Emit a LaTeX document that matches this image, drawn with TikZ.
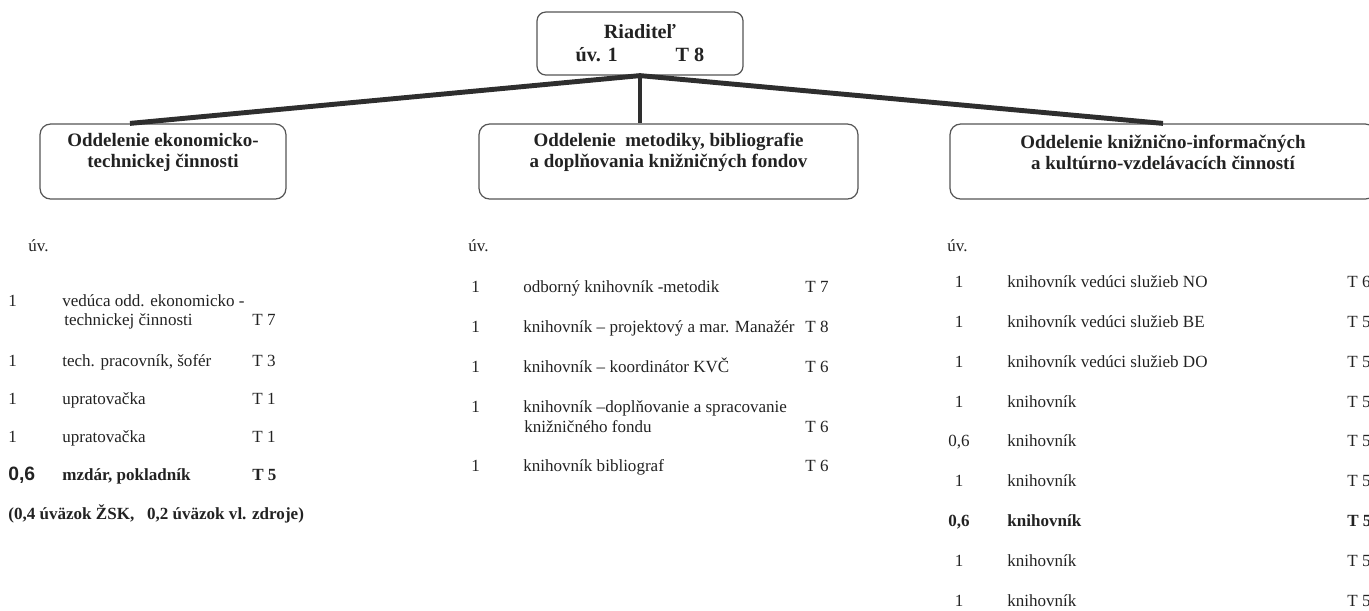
\documentclass[tikz,border=0pt]{standalone}
\usepackage{fontspec}
\setmainfont{Liberation Serif}
\newfontfamily\numfont{Liberation Sans}
\definecolor{ink}{HTML}{222222}
\definecolor{frame}{HTML}{555555}
\definecolor{wire}{HTML}{2E2E2E}
\begin{document}
\begin{tikzpicture}[x=0.02cm,y=-0.02cm,
    every node/.style={text=ink, inner sep=0pt},
    dirbox/.style={draw=frame, line width=0.7pt, rounded corners=5pt,
        minimum width=4.12cm, minimum height=1.26cm, align=center,
        font=\bfseries\fontsize{11.5}{13}\selectfont},
    deptbox/.style={draw=frame, line width=0.7pt, rounded corners=6pt, minimum height=1.5cm},
    depttitle/.style={align=center, font=\bfseries\fontsize{10.8}{12}\selectfont},
    entry/.style={anchor=base west, font=\fontsize{9.7}{11.3}\selectfont},
    entryb/.style={anchor=base west, font=\bfseries\fontsize{9.7}{11.3}\selectfont},
    branch/.style={draw=wire, line width=2.8pt}]
\useasboundingbox (0,0) rectangle (1369,610);
\clip (0,0) rectangle (1369,610);
% riaditel a oddelenia
\node[dirbox] (dir) at (640,43.5) {Riaditeľ\\úv. 1\hspace{33pt}T 8};
\node[deptbox, minimum width=4.92cm] (ekon) at (163,161.5) {};
\node[depttitle] (ekont) at (163,152) {Oddelenie ekonomicko-\\technickej činnosti};
\node[deptbox, minimum width=7.58cm] (metod) at (668.5,161.5) {};
\node[depttitle] (metodt) at (668.5,152) {Oddelenie\ \ metodiky, bibliografie\\a doplňovania knižničných fondov};
\node[deptbox, minimum width=8.52cm] (kniz) at (1163,161.5) {};
\node[depttitle] (knizt) at (1163,152) {Oddelenie knižnično-informačných\\a kultúrno-vzdelávacích činností};
\draw[branch] ([xshift=-0.66cm]ekon.north) -- (dir.south) -- (kniz.north);
\draw[branch] (dir.south) -- (dir.south |- metod.north);
% ekonomicko-technicke
\node[entry] (lu) at (28,251) {úv.};
\node[entry] (ln1) at (8,306) {1};
\node[entry] (lt1) at (62,306) {vedúca odd. ekonomicko -};
\node[entry] (ltx) at (64,325) {technickej činnosti};
\node[entry] (lg1) at (252,325) {T 7};
\foreach \n/\t/\g/\y [count=\i from 2] in {1/{tech. pracovník, šofér}/T 3/366,
    1/upratovačka/T 1/404, 1/upratovačka/T 1/442}
  {\node[entry] (ln\i) at (8,\y) {\n};
   \node[entry] (lt\i) at (62,\y) {\t};
   \node[entry] (lg\i) at (252,\y) {\g};}
\node[anchor=base west, font=\numfont\bfseries\fontsize{11}{13}\selectfont] (ln5) at (8,480) {0,6};
\node[entryb] (lt5) at (62,480) {mzdár, pokladník};
\node[entryb] (lg5) at (252,480) {T 5};
\node[entryb] (lnote) at (8,519) {(0,4 úväzok ŽSK,\ \ \ 0,2 úväzok vl. zdroje)};
% metodika
\node[entry] (mu) at (468,251) {úv.};
\foreach \t/\g/\y [count=\i] in {odborný knihovník -metodik/T 7/292,
    knihovník – projektový a mar. Manažér/T 8/332,
    knihovník – koordinátor KVČ/T 6/372}
  {\node[entry] (mn\i) at (471,\y) {1};
   \node[entry] (mt\i) at (523,\y) {\t};
   \node[entry] (mg\i) at (805,\y) {\g};}
\node[entry] (mn4) at (471,412) {1};
\node[entry] (mt4) at (523,412) {knihovník –doplňovanie a spracovanie};
\node[entry] (mtx) at (524,432) {knižničného fondu};
\node[entry] (mg4) at (805,432) {T 6};
\node[entry] (mn5) at (471,471) {1};
\node[entry] (mt5) at (523,471) {knihovník bibliograf};
\node[entry] (mg5) at (805,471) {T 6};
% kniznicno-informacne
\node[entry] (ru) at (947,251) {úv.};
\foreach \n/\t/\g/\y [count=\i] in {1/knihovník vedúci služieb NO/T 6/287,
    1/knihovník vedúci služieb BE/T 5/327, 1/knihovník vedúci služieb DO/T 5/367,
    1/knihovník/T 5/407, {0,6}/knihovník/T 5/446, 1/knihovník/T 5/486,
    1/knihovník/T 5/566, 1/knihovník/T 5/606}
  {\node[entry, anchor=base] (rn\i) at (959,\y) {\n};
   \node[entry] (rt\i) at (1007,\y) {\t};
   \node[entry] (rg\i) at (1347,\y) {\g};}
\node[entryb, anchor=base] (rn0) at (959,526) {0,6};
\node[entryb] (rt0) at (1007,526) {knihovník};
\node[entryb] (rg0) at (1347,526) {T 5};
\end{tikzpicture}
\end{document}
